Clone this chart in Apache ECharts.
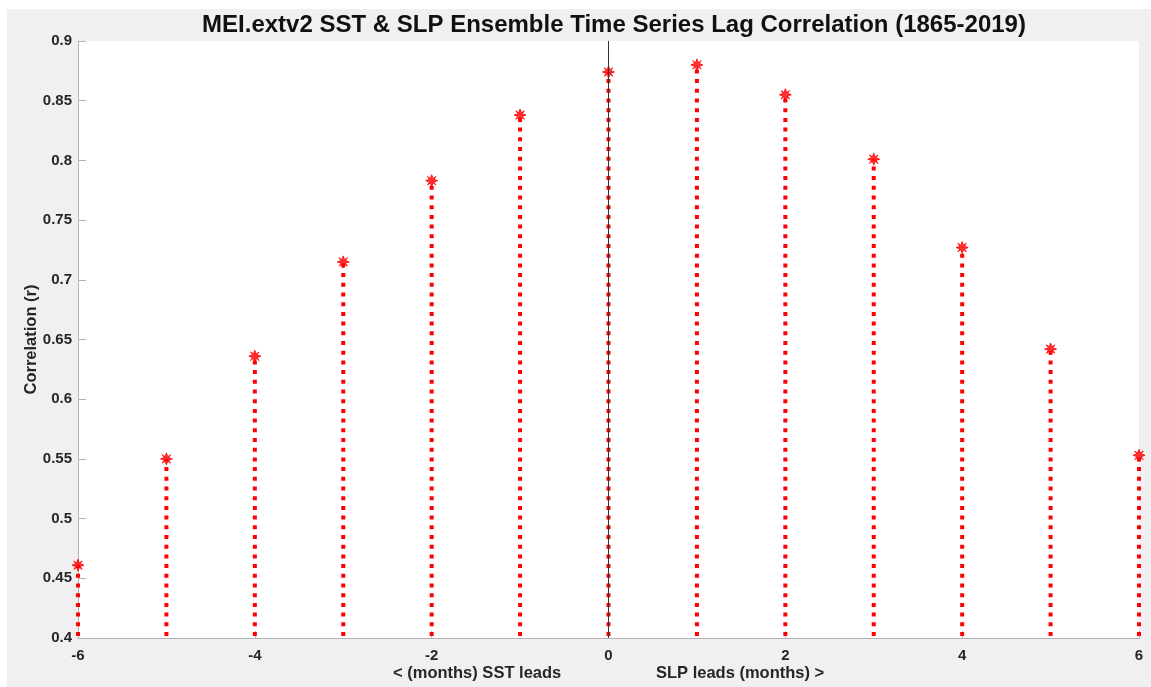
<!DOCTYPE html>
<html lang="en">
<head>
    <meta charset="UTF-8">
    <title>MEI.extv2 Lag Correlation</title>
    <style>
        * {
            margin: 0;
            padding: 0;
        }

        body {
            background: #fff;
        }

        #myEcharts {
            width: 1151px;
            height: 687px;
        }
    </style>
</head>
<body>
    <div id="myEcharts"></div>
    <script src="https://cdn.jsdelivr.net/npm/echarts@6/dist/echarts.min.js"></script>
    <script>
        // lag in months (negative = SST leads, positive = SLP leads)
        var lags = [-6, -5, -4, -3, -2, -1, 0, 1, 2, 3, 4, 5, 6];
        // correlation r
        var corr = [0.461, 0.550, 0.636, 0.715, 0.783, 0.838, 0.874, 0.880, 0.855, 0.801, 0.727, 0.642, 0.553];
        var yMin = 0.4, yMax = 0.9, yStep = 0.05;
        var xMin = -6, xMax = 6, xStep = 2;

        var points = lags.map(function (x, i) { return [x, corr[i]]; });

        // asterisk-like marker, similar to matlab '*' drawn thick
        var starPath = 'path://M10 0 L12.3 6.3 L17.07 2.93 L13.7 7.7 L20 10 L13.7 12.3 L17.07 17.07 ' +
            'L12.3 13.7 L10 20 L7.7 13.7 L2.93 17.07 L6.3 12.3 L0 10 L6.3 7.7 L2.93 2.93 L7.7 6.3 Z';

        var txt = '#262626';
        var font = 'Liberation Sans, Arial, Helvetica, sans-serif';

        var myEcharts = echarts.init(document.getElementById('myEcharts'));
        var option = {
            animation: false,
            backgroundColor: 'transparent',
            textStyle: { fontFamily: font },
            title: {
                text: 'MEI.extv2 SST & SLP Ensemble Time Series Lag Correlation (1865-2019)',
                left: 609,
                textAlign: 'center',
                top: 8,
                textStyle: { fontSize: 24, fontWeight: 'bold', color: '#111', fontFamily: font }
            },
            graphic: [
                // grey figure background
                { type: 'rect', z: -10, silent: true, shape: { x: 7, y: 9, width: 1144, height: 678 }, style: { fill: '#f0f0f0' } },
                { type: 'text', left: 393, top: 665, style: { text: '< (months) SST leads', fontSize: 16.5, fontWeight: 'bold', fill: txt, fontFamily: font } },
                { type: 'text', left: 656, top: 665, style: { text: 'SLP leads (months) >', fontSize: 16.5, fontWeight: 'bold', fill: txt, fontFamily: font } }
            ],
            grid: {
                left: 78,
                right: 12,
                top: 41,
                bottom: 49,
                show: true,
                backgroundColor: '#fff',
                borderWidth: 0
            },
            xAxis: {
                type: 'value',
                min: xMin,
                max: xMax,
                interval: xStep,
                axisLine: { show: true, onZero: false, lineStyle: { color: '#b3b3b3', width: 1 } },
                axisTick: { show: true, inside: true, length: 7, lineStyle: { color: '#b3b3b3' } },
                axisLabel: { color: txt, fontSize: 15, fontWeight: 'bold', margin: 10 },
                splitLine: { show: false }
            },
            yAxis: {
                type: 'value',
                min: yMin,
                max: yMax,
                interval: yStep,
                name: 'Correlation (r)',
                nameLocation: 'middle',
                nameGap: 38,
                nameMoveOverlap: false,
                nameTextStyle: { color: txt, fontSize: 16.5, fontWeight: 'bold' },
                axisLine: { show: true, onZero: false, lineStyle: { color: '#b3b3b3', width: 1 } },
                axisTick: { show: true, inside: true, length: 8, lineStyle: { color: '#b3b3b3' } },
                axisLabel: {
                    color: txt, fontSize: 15, fontWeight: 'bold', margin: 6,
                    formatter: function (v) { return String(Math.round(v * 100) / 100); }
                },
                splitLine: { show: false }
            },
            series: [
                {
                    // dotted stems from the baseline up to each value
                    type: 'custom',
                    data: points,
                    z: 2,
                    renderItem: function (params, api) {
                        var top = api.coord([api.value(0), api.value(1)]);
                        var bot = api.coord([api.value(0), yMin]);
                        return {
                            type: 'line',
                            shape: { x1: bot[0], y1: bot[1] - 2, x2: top[0], y2: top[1] },
                            style: { stroke: '#ff0000', lineWidth: 4, lineDash: [4, 5.7] }
                        };
                    }
                },
                {
                    type: 'scatter',
                    data: points,
                    symbol: starPath,
                    symbolSize: 12,
                    z: 3,
                    itemStyle: { color: '#ff0000', borderColor: '#ff0000', borderWidth: 1 },
                    markLine: {
                        silent: true,
                        symbol: 'none',
                        label: { show: false },
                        lineStyle: { color: '#333', width: 1, type: 'solid' },
                        data: [{ xAxis: 0 }]
                    }
                }
            ]
        };
        myEcharts.setOption(option);
    </script>
</body>
</html>
